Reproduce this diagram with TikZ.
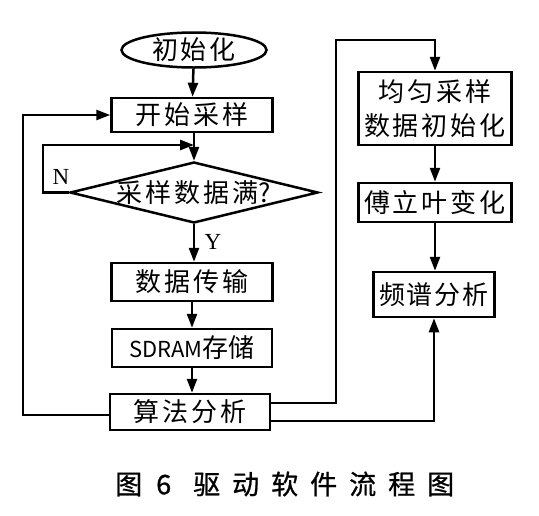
\documentclass[tikz,border=0pt]{standalone}
\usepackage{fontspec}
\setmainfont{Noto Sans CJK SC}
\newfontfamily\latinserif{Liberation Serif}
\newfontfamily\capfont[AutoFakeBold=0.8]{Noto Sans CJK SC}
\usetikzlibrary{shapes.geometric,arrows.meta}
\newcommand\ks{\kern3pt}
\newcommand\kc{\kern12pt}
\begin{document}
\begin{tikzpicture}[x=1pt,y=-1pt,line width=2.5pt,
  txt/.style={font=\fontsize{26}{34}\selectfont},
  box/.style={draw,rectangle,inner sep=0pt,txt},
  arr/.style={-{Triangle[length=14pt,width=10pt]}},
  yn/.style={font=\latinserif\fontsize{23}{24}\selectfont}]
\useasboundingbox (0,0) rectangle (539,515);
% left column
\node[draw,ellipse,minimum width=145pt,minimum height=35pt,inner sep=0pt,
      label={[txt]center:初\ks 始\ks 化}] (init) at (194,50) {};
\node[box,minimum width=161pt,minimum height=34pt] (start) at (192,115) {开\ks 始\ks 采\ks 样};
\node[draw,diamond,minimum width=248pt,minimum height=61pt,inner sep=0pt,
      label={[txt]center:采\ks 样\ks 数\ks 据\ks 满?}] (dec) at (194,192.5) {};
\node[box,minimum width=161pt,minimum height=38pt] (data) at (192,282) {数\ks 据\ks 传\ks 输};
\node[box,minimum width=160pt,minimum height=38pt] (sdram) at (192,348) {{\fontsize{22}{26}\selectfont SDRAM}存储};
\node[box,minimum width=160pt,minimum height=36pt] (algo) at (190,412) {算\ks 法\ks 分\ks 析};
% right column
\node[box,minimum width=153pt,minimum height=73pt,align=center] (uni) at (435,108.5) {均\ks 匀\ks 采\ks 样\\数\ks 据\ks 初\ks 始\ks 化};
\node[box,minimum width=153pt,minimum height=39pt] (four) at (435,202.5) {傅\ks 立\ks 叶\ks 变\ks 化};
\node[box,minimum width=121pt,minimum height=45pt] (spec) at (434,294.5) {频\kern2pt 谱\kern2pt 分\kern2pt 析};
% labels
\node[yn] (N) at (61,177) {N};
\node[yn] (Y) at (213,242) {Y};
% connectors
\draw[arr] (init) -- (start);
\draw[arr] (start.south -| dec.north) -- (dec.north);
\coordinate (nl) at (43,145);
\draw[arr] (dec.west) -- (dec.west -| nl) -- (nl) -- (nl -| dec.north);
\draw[arr] (dec.south) -- (dec.south |- data.north);
\draw[arr] (data) -- (sdram);
\draw[arr] (sdram.south) -- (sdram.south |- algo.north);
\coordinate (lb) at (23,415);
\draw[arr] (algo.west |- lb) -- (lb) -- (lb |- start.west) -- (start.west);
\coordinate (r1) at (336,40);
\draw[arr] ([yshift=9pt]algo.east) -- ([yshift=9pt]algo.east -| r1) -- (r1) -- (r1 -| uni.north) -- (uni.north);
\draw[arr] (uni) -- (four);
\draw[arr] (four) -- (four.south |- spec.north);
\draw[arr] ([yshift=-9pt]algo.east) -- ([yshift=-9pt]algo.east -| spec.south) -- (spec.south);
% caption
\node[anchor=west,inner sep=0pt,font=\capfont\bfseries\fontsize{27}{30}\selectfont] (cap) at (114,484)
  {图\kern14pt 6\kern22pt 驱\kc 动\kc 软\kc 件\kc 流\kc 程\kc 图};
\end{tikzpicture}
\end{document}
